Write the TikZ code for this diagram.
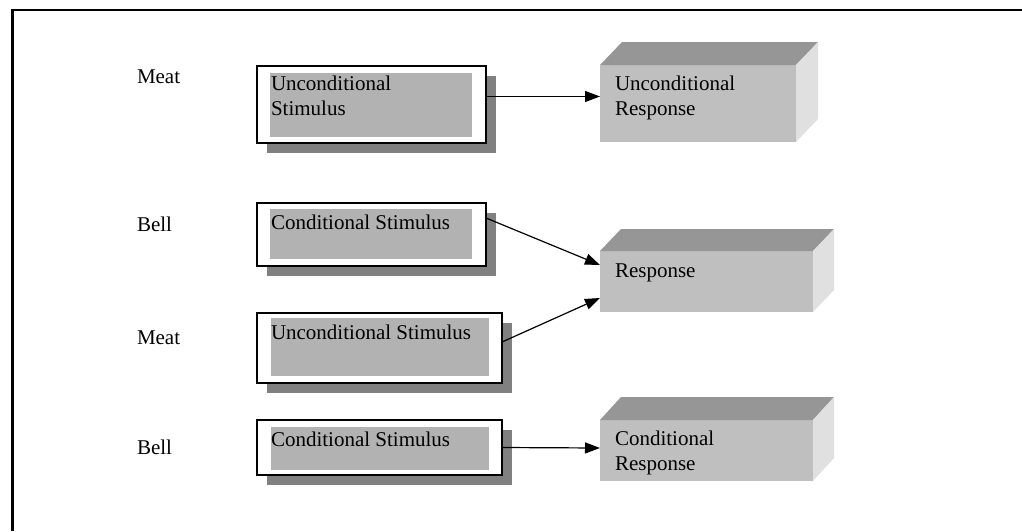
\documentclass[tikz,border=0pt]{standalone}
\usepackage{fontspec}
\setmainfont{Liberation Serif}
\usetikzlibrary{arrows.meta,shadows}
\begin{document}
\begin{tikzpicture}[x=1pt,y=-1pt,
  every node/.style={inner sep=0pt,outer sep=0pt,font=\fontsize{21}{25}\selectfont},
  stimbox/.style={draw=black,line width=1.3pt,fill=white,anchor=north west,
    drop shadow={shadow xshift=10pt,shadow yshift=-10pt,fill=black!50,opacity=1}},
  innerbox/.style={fill=black!30,draw=none,anchor=north west},
  front/.style={fill=black!25,draw=none,anchor=north west},
  topface/.style={fill=black!41},
  sideface/.style={fill=black!12},
  lbl/.style={anchor=base west,align=left},
  arr/.style={line width=1.2pt,-{Triangle[length=15pt,width=11pt]}}]
\useasboundingbox (0,0) rectangle (1022,531);
% frame
\draw[line width=2.2pt] (12.5,531) -- (12.5,10) -- (1022,10);

% row labels
\node[lbl] (m1) at (137,83) {Meat};
\node[lbl] (b1) at (137,231) {Bell};
\node[lbl] (m2) at (137,344) {Meat};
\node[lbl] (b2) at (137,454) {Bell};

% stimulus boxes (multi-line labels are placed by their last baseline)
\node[stimbox,minimum width=229pt,minimum height=77pt] (s1) at (257,66) {};
\node[innerbox,minimum width=202pt,minimum height=64pt] (g1) at (270,73) {};
\node[lbl] (t1) at (271,115) {Unconditional\\Stimulus};

\node[stimbox,minimum width=229pt,minimum height=63pt] (s2) at (257,203) {};
\node[innerbox,minimum width=202pt,minimum height=50pt] (g2) at (270,209) {};
\node[lbl] (t2) at (271,229) {Conditional Stimulus};

\node[stimbox,minimum width=245pt,minimum height=70pt] (s3) at (257,313) {};
\node[innerbox,minimum width=218pt,minimum height=58pt] (g3) at (271,318) {};
\node[lbl] (t3) at (271,339) {Unconditional Stimulus};

\node[stimbox,minimum width=245pt,minimum height=55pt] (s4) at (257,420) {};
\node[innerbox,minimum width=218pt,minimum height=43pt] (g4) at (271,427) {};
\node[lbl] (t4) at (271,446) {Conditional Stimulus};

% response blocks
\node[front,minimum width=196pt,minimum height=77pt] (r1) at (600,65) {};
\fill[topface] (r1.north west) -- ++(22,-23) -- ++(196,0) -- (r1.north east) -- cycle;
\fill[sideface] (r1.north east) -- ++(22,-23) -- ++(0,77) -- (r1.south east) -- cycle;
\node[lbl] (u1) at (615,115) {Unconditional\\Response};

\node[front,minimum width=213pt,minimum height=61pt] (r2) at (600,251) {};
\fill[topface] (r2.north west) -- ++(21,-22) -- ++(213,0) -- (r2.north east) -- cycle;
\fill[sideface] (r2.north east) -- ++(21,-22) -- ++(0,61) -- (r2.south east) -- cycle;
\node[lbl] (u2) at (615,277) {Response};

\node[front,minimum width=213pt,minimum height=61pt] (r3) at (600,420) {};
\fill[topface] (r3.north west) -- ++(21,-23) -- ++(213,0) -- (r3.north east) -- cycle;
\fill[sideface] (r3.north east) -- ++(21,-23) -- ++(0,61) -- (r3.south east) -- cycle;
\node[lbl] (u3) at (615,470) {Conditional\\Response};

% connectors
\draw[arr] ([yshift=8pt]s1.east) -- ([yshift=7pt]r1.west);
\draw[arr] ([yshift=16.5pt]s2.east) -- ([yshift=16.5pt]r2.west);
\draw[arr] ([yshift=6pt]s3.east) -- ([yshift=-16.5pt]r2.west);
\draw[arr] ([yshift=0pt]s4.east) -- ([yshift=2.5pt]r3.west);
\end{tikzpicture}
\end{document}
